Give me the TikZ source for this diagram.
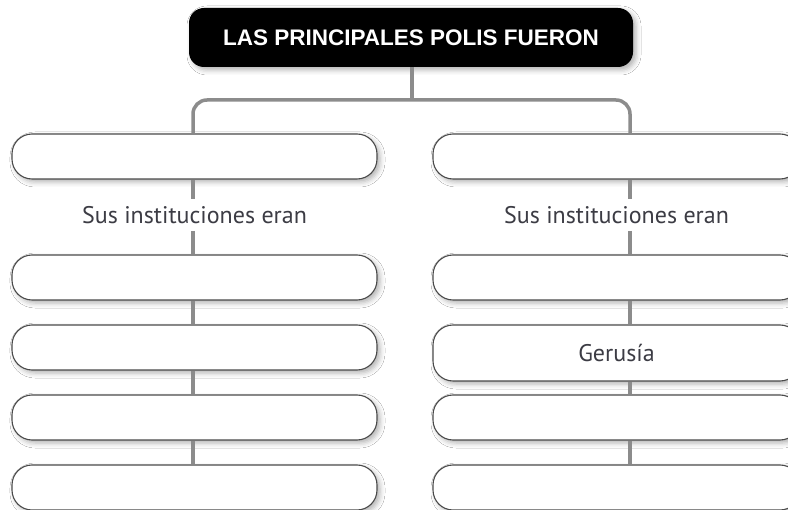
\documentclass[tikz,border=0pt]{standalone}
\usepackage{fontspec}
\setmainfont{PT Sans}
\newfontfamily\titlefont{Liberation Sans}
\usetikzlibrary{shadows.blur}
\definecolor{linegray}{HTML}{8C8C8C}
\definecolor{boxedge}{HTML}{4A4A4A}
\definecolor{txtgray}{HTML}{3C3C44}
\begin{document}
\begin{tikzpicture}[x=1pt,y=-1pt,
  shad/.style={blur shadow={shadow xshift=3pt, shadow yshift=-3pt, shadow blur radius=5pt, shadow opacity=30}},
  box/.style={draw=boxedge, line width=1.1pt, fill=white, rounded corners=20pt,
    minimum height=45pt, inner sep=0pt, text=txtgray,
    font=\fontsize{24}{28}\selectfont, shad},
  lbox/.style={box, minimum width=365pt},
  rbox/.style={box, minimum width=367pt},
  conn/.style={draw=linegray, line width=3.5pt},
  lbl/.style={text=txtgray, inner xsep=2pt, inner ysep=7pt, font=\fontsize{24}{28}\selectfont},
  titlebox/.style={fill=black, rounded corners=15pt, minimum width=444pt, minimum height=59pt,
    inner sep=0pt, text=white, font=\titlefont\bfseries\fontsize{22.5}{26}\selectfont, shad}
]
\useasboundingbox (0,0) rectangle (788,510);
\clip (0,0) rectangle (788,510);
\fill[white] (0,0) rectangle (788,510);

\coordinate (ll) at (193,0);
\coordinate (rl) at (630,0);
\coordinate (bar) at (412,100);

% nodes
\node[titlebox] (top) at (411,37.5) {LAS PRINCIPALES POLIS FUERON};

\node[lbox] (L1) at (194.5,156.5) {};
\node[lbl]  (LS) at (194.5,215) {Sus instituciones eran};
\node[lbox] (L2) at (194.5,277.5) {};
\node[lbox] (L3) at (194.5,347.5) {};
\node[lbox] (L4) at (194.5,417.5) {};
\node[lbox] (L5) at (194.5,487.5) {};

\node[rbox] (R1) at (616.5,156.5) {};
\node[lbl]  (RS) at (616.5,215) {Sus instituciones eran};
\node[rbox] (R2) at (616.5,277.5) {};
\node[rbox, minimum height=56pt] (R3) at (616.5,353) {Gerusía};
\node[rbox] (R4) at (616.5,417.5) {};
\node[rbox] (R5) at (616.5,487.5) {};

% connectors, from border to border
\draw[conn] (top.south -| bar) -- (bar);
\draw[conn, rounded corners=14pt] (L1.north -| ll) |- (bar) -| (R1.north -| rl);
\draw[conn] (L1.south -| ll) -- (LS.north -| ll);
\draw[conn] (LS.south -| ll) -- (L2.north -| ll);
\draw[conn] (L2.south -| ll) -- (L3.north -| ll);
\draw[conn] (L3.south -| ll) -- (L4.north -| ll);
\draw[conn] (L4.south -| ll) -- (L5.north -| ll);
\draw[conn] (R1.south -| rl) -- (RS.north -| rl);
\draw[conn] (RS.south -| rl) -- (R2.north -| rl);
\draw[conn] (R2.south -| rl) -- (R3.north -| rl);
\draw[conn] (R3.south -| rl) -- (R4.north -| rl);
\draw[conn] (R4.south -| rl) -- (R5.north -| rl);
\end{tikzpicture}
\end{document}
